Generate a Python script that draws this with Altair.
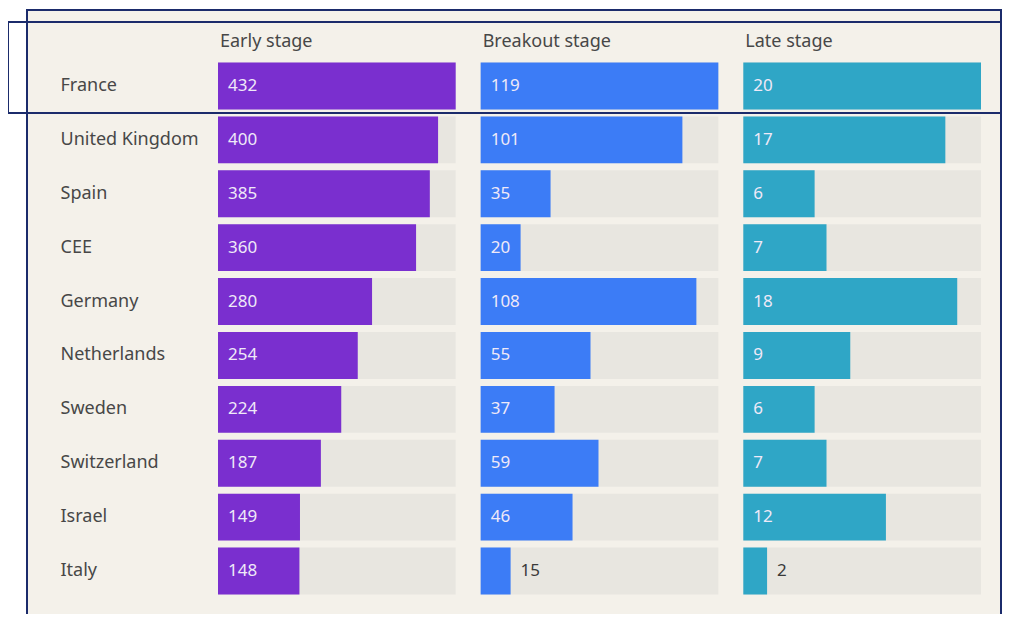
import altair as alt
import pandas as pd

countries = ["France", "United Kingdom", "Spain", "CEE", "Germany",
             "Netherlands", "Sweden", "Switzerland", "Israel", "Italy"]
early = [432, 400, 385, 360, 280, 254, 224, 187, 149, 148]
breakout = [119, 101, 35, 20, 108, 55, 37, 59, 46, 15]
late = [20, 17, 6, 7, 18, 9, 6, 7, 12, 2]
stages = ["Early stage", "Breakout stage", "Late stage"]
stage_colors = ["#7a2fcf", "#3c7cf6", "#2fa6c6"]

GAP = 25 / 238.0
FONT = "Noto Sans"

rows = []
for si, (stage, vals) in enumerate(zip(stages, [early, breakout, late])):
    for c, v in zip(countries, vals):
        rows.append({"country": c, "stage": stage, "idx": si, "value": v})
df = pd.DataFrame(rows)
hdr = pd.DataFrame({"stage": stages, "idx": list(range(len(stages)))})

xscale = alt.Scale(domain=[0, 3 + 2 * GAP], nice=False, zero=False)
yenc = alt.Y("country:N", sort=countries, title=None,
             scale=alt.Scale(paddingInner=0.13, paddingOuter=0.065),
             axis=alt.Axis(labelAlign="left", labelPadding=158, ticks=False,
                           tickSize=0, domain=False, labelFontSize=18,
                           labelFont=FONT, labelColor="#474747",
                           labelBaseline="middle", zindex=2))

base = alt.Chart(df).transform_joinaggregate(
    vmax="max(value)", groupby=["stage"]
).transform_calculate(
    x0=f"datum.idx * (1 + {GAP})",
).transform_calculate(
    x1="datum.x0 + datum.value / datum.vmax",
    xe="datum.x0 + 1",
    frac="datum.value / datum.vmax",
).transform_calculate(
    lx="datum.frac < 0.15 ? datum.x1 : datum.x0",
    inside="datum.frac < 0.15 ? 'out' : 'in'",
)

track = base.mark_bar(color="#e8e6e0").encode(
    x=alt.X("x0:Q", scale=xscale, axis=None),
    x2="xe:Q",
    y=yenc,
)

bars = base.mark_bar().encode(
    x=alt.X("x0:Q", scale=xscale, axis=None),
    x2="x1:Q",
    y=yenc,
    color=alt.Color("stage:N", scale=alt.Scale(domain=stages, range=stage_colors),
                    legend=None),
)

labels = base.mark_text(align="left", baseline="middle", dx=10, fontSize=17,
                        font=FONT).encode(
    x=alt.X("lx:Q", scale=xscale, axis=None),
    y=yenc,
    text="value:Q",
    color=alt.condition(alt.datum.inside == "in", alt.value("#efe9f8"),
                        alt.value("#3a3a3a")),
)

headers = alt.Chart(hdr).transform_calculate(
    hx=f"datum.idx * (1 + {GAP})"
).mark_text(align="left", baseline="middle", dx=2, fontSize=18, font=FONT,
            color="#474747").encode(
    x=alt.X("hx:Q", scale=xscale, axis=None),
    y=alt.value(-17),
    text="stage:N",
)

frame_df = pd.DataFrame({"k": [0]})
outer = alt.Chart(frame_df).mark_rect(fill="#f4f1ea", stroke="#1b2b6b",
                                      strokeWidth=2).encode(
    x=alt.value(-191), x2=alt.value(783), y=alt.value(-49), y2=alt.value(600),
)
highlight = alt.Chart(frame_df).mark_rect(fill="#ffffff", fillOpacity=0,
                                          stroke="#1b2b6b", strokeWidth=2).encode(
    x=alt.value(-210), x2=alt.value(810), y=alt.value(-37), y2=alt.value(54),
)

chart = alt.layer(outer, track, bars, labels, headers, highlight).properties(
    width=763, height=539,
    autosize=alt.AutoSizeParams(type="none"),
    padding={"left": 210, "top": 51, "right": 21, "bottom": 16},
    background="#ffffff",
).configure_view(stroke=None)

chart.save("out.html", embed_options={"renderer": "svg", "actions": False})
